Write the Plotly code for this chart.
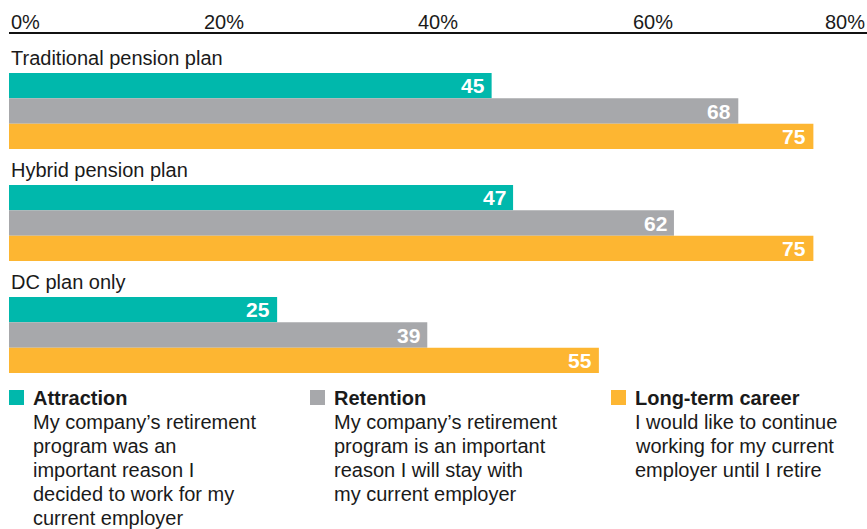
import plotly.graph_objects as go

categories = ["Traditional pension plan", "Hybrid pension plan", "DC plan only"]
series_names = ["Attraction", "Retention", "Long-term career"]
attraction = [45, 47, 25]
retention = [68, 62, 39]
long_term = [75, 75, 55]
series_values = [attraction, retention, long_term]
colors = ["#00B8AC", "#A7A8AB", "#FDB632"]
descriptions = [
    ["My company’s retirement", "program was an", "important reason I",
     "decided to work for my", "current employer"],
    ["My company’s retirement", "program is an important", "reason I will stay with",
     "my current employer"],
    ["I would like to continue", "working for my current", "employer until I retire"],
]
tick_values = [0, 20, 40, 60, 80]
tick_labels = ["0%", "20%", "40%", "60%", "80%"]

FONT = "Liberation Sans, Arial, sans-serif"
TXT = "#1a1a1a"
W, H = 867, 529
ML, MR, MT, MB = 9, 0, 55, 138
PH = H - MT - MB
BARGAP = 0.32
SLOT = PH / len(categories)
BAR_H = SLOT * (1 - BARGAP) / len(series_names)

def py(pix):
    return (H - MB - pix) / PH

def px(pix):
    return (pix - ML) / (W - ML - MR)

fig = go.Figure()
annotations = []
for si, (name, vals, col) in enumerate(zip(series_names, series_values, colors)):
    fig.add_trace(go.Bar(
        y=categories, x=vals, name=name, orientation="h",
        marker=dict(color=col, line=dict(width=0)),
        textposition="none", hoverinfo="x+y",
    ))
    shift = (1 - si) * BAR_H
    for c, v in zip(categories, vals):
        annotations.append(dict(x=v, xref="x", y=c, yref="y", yshift=shift, xshift=-5,
                                text=f"<b>{v}</b>", showarrow=False,
                                xanchor="right", yanchor="middle",
                                font=dict(family=FONT, size=21, color="white")))

for v, lab in zip(tick_values, tick_labels):
    anchor = "left" if v == tick_values[0] else ("right" if v == tick_values[-1] else "center")
    annotations.append(dict(x=v, xref="x", y=py(22), yref="paper", text=lab,
                            showarrow=False, xanchor=anchor, yanchor="middle",
                            font=dict(family=FONT, size=20, color=TXT)))
for c in categories:
    annotations.append(dict(x=0, xref="paper", y=c, yref="y", yshift=53, text=c,
                            showarrow=False, xanchor="left", yanchor="middle",
                            font=dict(family=FONT, size=20, color=TXT)))

shapes = [dict(type="line", xref="paper", yref="paper", x0=0, x1=1,
               y0=py(33), y1=py(33), line=dict(color="#111", width=2))]
legend_x = [9, 310, 611]
LINE_STEP = 24
for lx, name, desc, col in zip(legend_x, series_names, descriptions, colors):
    shapes.append(dict(type="rect", xref="paper", yref="paper",
                       x0=px(lx), x1=px(lx + 15), y0=py(390), y1=py(405),
                       fillcolor=col, line=dict(width=0)))
    annotations.append(dict(x=px(lx + 22), xref="paper", y=py(385), yref="paper",
                            text=f"<b>{name}</b>", showarrow=False,
                            xanchor="left", yanchor="top", align="left",
                            font=dict(family=FONT, size=20, color=TXT)))
    for li, t in enumerate(desc):
        annotations.append(dict(x=px(lx + 22), xref="paper", y=py(409 + li * LINE_STEP),
                                yref="paper", text=t, showarrow=False,
                                xanchor="left", yanchor="top", align="left",
                                font=dict(family=FONT, size=20, color=TXT)))

fig.update_layout(
    width=W, height=H,
    margin=dict(l=ML, r=MR, t=MT, b=MB),
    paper_bgcolor="white", plot_bgcolor="white",
    barmode="group", bargap=BARGAP, bargroupgap=0,
    showlegend=False,
    xaxis=dict(range=[0, 80], showgrid=False, zeroline=False, showticklabels=False,
               fixedrange=True),
    yaxis=dict(range=[len(categories) - 0.5, -0.5], showgrid=False, zeroline=False,
               showticklabels=False, fixedrange=True),
    annotations=annotations, shapes=shapes,
)
fig.write_html("out.html", config={"displayModeBar": False},
               post_script="document.body.style.margin='0';document.body.style.overflow='hidden';")
